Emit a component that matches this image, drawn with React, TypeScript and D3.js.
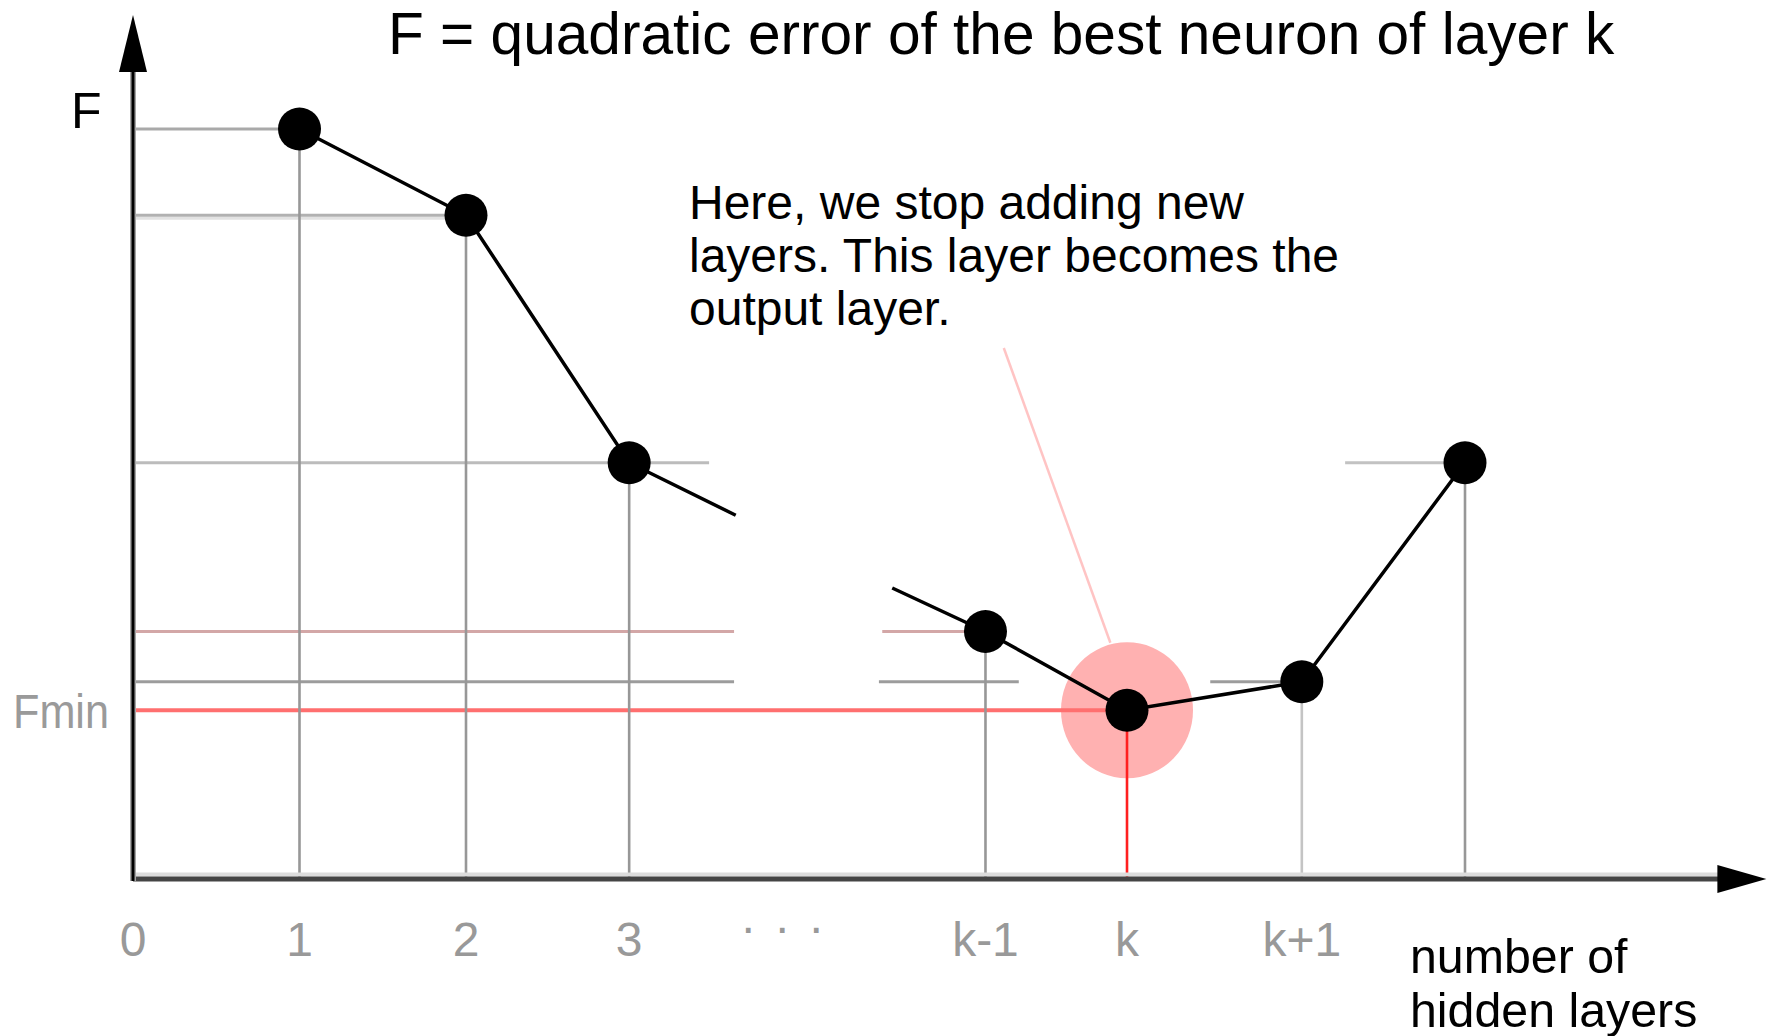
import React from "react";
import * as d3 from "d3";

// Hidden-layer positions along the x axis (axis units) and the error F of each.
const layerNames = ["1", "2", "3", "k-1", "k", "k+1", "k+2"];
const layerPos = [1.0, 2.0, 2.98, 5.12, 5.97, 7.02, 8.0];
const errorValues = [10.0, 8.85, 5.55, 3.3, 2.25, 2.63, 5.55];

// Index of the layer where the error is minimal (the stopping layer).
const bestIndex = 4;

// Axis tick labels.
const tickLabels = ["0", "1", "2", "3", "k-1", "k", "k+1"];
const tickPos = [0, 1.0, 2.0, 2.98, 5.12, 5.97, 7.02];
const ellipsisPos = 3.9;

// The curve is interrupted between layer 3 and layer k-1.
const gapOut: [number, number] = [3.62, 4.85];
const gapIn: [number, number] = [4.56, 3.88];

// Horizontal guides: [layer index, from, to] in axis units.
const guideSpans: [number, number, number][] = [
  [0, 0, 1.0],
  [1, 0, 2.0],
  [2, 0, 3.46],
  [6, 7.28, 8.0],
  [3, 0, 3.61],
  [3, 4.5, 5.12],
  [5, 0, 3.61],
  [5, 4.48, 5.32],
  [5, 6.47, 7.02],
];

// Axis extents.
const xMax = 9.81;
const yMax = 11.52;

// Pointer from the note to the highlighted minimum.
const pointerFrom: [number, number] = [5.23, 7.08];
const pointerTo: [number, number] = [5.87, 3.15];

const titleText = "F = quadratic error of the best neuron of layer k";
const noteLines = [
  "Here, we stop adding new",
  "layers. This layer becomes the",
  "output layer.",
];
const xTitleLines = ["number of", "hidden layers"];

const FONT = "'Liberation Sans', Arial, Helvetica, sans-serif";

const guideColor: Record<number, string> = {
  0: "#a9a9a9",
  1: "#b1b1b1",
  2: "#bcbcbc",
  3: "#d3a7a7",
  5: "#9c9c9c",
  6: "#c2c2c2",
};
const dropColor: Record<number, string> = {
  5: "#c4c4c4",
};

export default function App() {
  const x = d3.scaleLinear().domain([0, 1]).range([133, 299.5]);
  const y = d3.scaleLinear().domain([0, 10]).range([879, 129]);

  const pts: [number, number][] = layerPos.map((p, i) => [p, errorValues[i]]);
  const line = d3
    .line<[number, number]>()
    .x((d) => x(d[0]))
    .y((d) => y(d[1]));

  const firstPart = [...pts.slice(0, 3), gapOut];
  const secondPart = [gapIn, ...pts.slice(3)];

  const x0 = x(0);
  const y0 = y(0);
  const xEnd = x(xMax);
  const yTop = y(yMax);

  const bx = x(layerPos[bestIndex]);
  const by = y(errorValues[bestIndex]);

  return (
    <svg
      width={1770}
      height={1036}
      style={{ position: "absolute", left: 0, top: 0, background: "#fff" }}
      fontFamily={FONT}
    >
      <rect x={0} y={0} width={1770} height={1036} fill="#fff" />

      {/* highlight of the minimum */}
      <ellipse cx={bx} cy={by} rx={66} ry={68} fill="#ffb1b1" />

      {/* horizontal guides */}
      <line x1={x0} x2={x(layerPos[1])} y1={y(errorValues[1]) + 3} y2={y(errorValues[1]) + 3} stroke="#e2e2e2" strokeWidth={3} />
      {guideSpans.map(([i, a, b], k) => (
        <line
          key={"g" + k}
          x1={x(a)}
          x2={x(b)}
          y1={y(errorValues[i])}
          y2={y(errorValues[i])}
          stroke={guideColor[i] ?? "#aaa"}
          strokeWidth={3}
        />
      ))}

      {/* Fmin guide */}
      <line x1={x0} x2={bx} y1={by} y2={by} stroke="#ff6f6f" strokeWidth={4} />

      {/* vertical drops to the axis */}
      {pts.map((d, i) => (
        <line
          key={"v" + i}
          x1={x(d[0])}
          x2={x(d[0])}
          y1={y(d[1])}
          y2={y0}
          stroke={i === bestIndex ? "#ff2020" : dropColor[i] ?? "#979797"}
          strokeWidth={2.6}
        />
      ))}

      {/* pointer from the note */}
      <line
        x1={x(pointerFrom[0])}
        y1={y(pointerFrom[1])}
        x2={x(pointerTo[0])}
        y2={y(pointerTo[1])}
        stroke="#ffc4c4"
        strokeWidth={2.5}
      />

      {/* axes */}
      <line x1={x0} x2={xEnd - 40} y1={y0 - 4.5} y2={y0 - 4.5} stroke="#dcdcdc" strokeWidth={4} />
      <line x1={x0} x2={xEnd - 40} y1={y0} y2={y0} stroke="#444" strokeWidth={5} />
      <path d={`M${xEnd},${y0} L${xEnd - 49},${y0 - 14} L${xEnd - 49},${y0 + 14} Z`} fill="#000" />
      <line x1={x0} x2={x0} y1={yTop + 50} y2={y0 + 2} stroke="#a6a6a6" strokeWidth={6} />
      <line x1={x0} x2={x0} y1={yTop + 50} y2={y0 + 2} stroke="#000" strokeWidth={3} />
      <path d={`M${x0},${yTop} L${x0 - 14},${yTop + 57} L${x0 + 14},${yTop + 57} Z`} fill="#000" />

      {/* error curve */}
      <path d={line(firstPart) ?? ""} fill="none" stroke="#000" strokeWidth={3.5} />
      <path d={line(secondPart) ?? ""} fill="none" stroke="#000" strokeWidth={3.5} />
      {pts.map((d, i) => (
        <circle key={"p" + i} cx={x(d[0])} cy={y(d[1])} r={21.5} fill="#000" />
      ))}

      {/* tick labels */}
      {tickLabels.map((t, i) => (
        <text
          key={"t" + i}
          x={x(tickPos[i])}
          y={956}
          textAnchor="middle"
          fontSize={48}
          fill="#999"
        >
          {t}
        </text>
      ))}
      <text x={x(ellipsisPos)} y={944} textAnchor="middle" fontSize={48} fill="#999" textLength={84} lengthAdjust="spacing">
        · · ·
      </text>

      {/* y labels */}
      <text x={71} y={128} fontSize={50} fill="#000">
        F
      </text>
      <text x={13} y={728} fontSize={48} fill="#9a9a9a" textLength={96} lengthAdjust="spacingAndGlyphs">
        Fmin
      </text>

      {/* title */}
      <text x={388} y={54} fontSize={58.6} fill="#000">
        {titleText}
      </text>

      {/* note */}
      {noteLines.map((t, i) => (
        <text key={"n" + i} x={689} y={219 + i * 53} fontSize={48} fill="#000">
          {t}
        </text>
      ))}

      {/* x axis title */}
      {xTitleLines.map((t, i) => (
        <text key={"x" + i} x={1410} y={973 + i * 54} fontSize={48.3} fill="#000">
          {t}
        </text>
      ))}
    </svg>
  );
}
